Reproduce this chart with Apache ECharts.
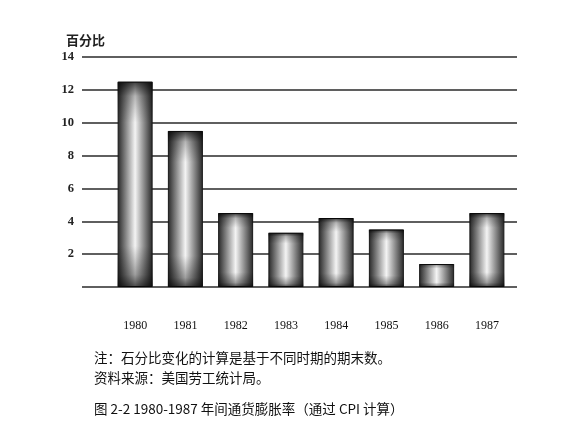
<!DOCTYPE html>
<html><head><meta charset="utf-8">
<script src="https://cdn.jsdelivr.net/npm/echarts@6/dist/echarts.min.js"></script>
<style>html,body{margin:0;padding:0;background:#fff}#c{width:587px;height:435px}</style>
</head><body><div id="c"></div>
<script>
const years = ['1980','1981','1982','1983','1984','1985','1986','1987'];
const inflation = [12.5, 9.5, 4.5, 3.3, 4.2, 3.5, 1.4, 4.5];
const yTicks = [0, 2, 4, 6, 8, 10, 12, 14];
const yName = '百分比';
const noteLines = ['注：石分比变化的计算是基于不同时期的期末数。', '资料来源：美国劳工统计局。'];
const caption = '图 2-2 1980-1987 年间通货膨胀率（通过 CPI 计算）';

const chart = echarts.init(document.getElementById('c'));
const cjk = '"Noto Sans CJK SC", sans-serif';
const barColor = {
  type: 'linear', x: 0, y: 0, x2: 1, y2: 0,
  colorStops: [
    {offset: 0, color: '#262626'},
    {offset: 0.22, color: '#808080'},
    {offset: 0.5, color: '#f4f4f4'},
    {offset: 0.78, color: '#808080'},
    {offset: 1, color: '#262626'}
  ]
};
const shadeColor = {
  type: 'linear', x: 0, y: 0, x2: 0, y2: 1,
  colorStops: [
    {offset: 0, color: 'rgba(0,0,0,0.75)'},
    {offset: 0.07, color: 'rgba(0,0,0,0.25)'},
    {offset: 0.2, color: 'rgba(0,0,0,0)'},
    {offset: 0.8, color: 'rgba(0,0,0,0)'},
    {offset: 0.94, color: 'rgba(0,0,0,0.35)'},
    {offset: 1, color: 'rgba(0,0,0,0.7)'}
  ]
};
chart.setOption({
  backgroundColor: '#fff',
  animation: false,
  title: [
    {text: yName, left: 61, top: 29, textStyle: {fontFamily: cjk, fontSize: 13, fontWeight: 'bold', color: '#222'}},
    {text: noteLines[0], left: 89, top: 346, textStyle: {fontFamily: cjk, fontSize: 13.5, fontWeight: 'normal', color: '#111'}},
    {text: noteLines[1], left: 89, top: 366, textStyle: {fontFamily: cjk, fontSize: 13.5, fontWeight: 'normal', color: '#111'}},
    {text: caption, left: 89, top: 397, textStyle: {fontFamily: cjk, fontSize: 13.5, fontWeight: 'normal', color: '#111'}}
  ],
  grid: [
    {left: 82, right: 70, top: 57, bottom: 148},
    {left: 110, width: 402, top: 57, bottom: 148}
  ],
  xAxis: [
    {gridIndex: 0, type: 'category', data: years, show: false},
    {gridIndex: 1, type: 'category', data: years, boundaryGap: true,
     axisLine: {show: false}, axisTick: {show: false},
     axisLabel: {margin: 33, fontFamily: '"Liberation Serif", serif', fontSize: 12, color: '#111'}}
  ],
  yAxis: [
    {gridIndex: 0, type: 'value', min: yTicks[0], max: yTicks[yTicks.length-1], interval: 2,
     axisLine: {show: false}, axisTick: {show: false},
     axisLabel: {margin: 8, fontFamily: '"Liberation Serif", serif', fontSize: 12.5, fontWeight: 'bold', color: '#222',
       formatter: v => v === 0 ? '' : String(v)},
     splitLine: {show: true, lineStyle: {color: '#2a2a2a', width: 1.5}}},
    {gridIndex: 1, type: 'value', min: yTicks[0], max: yTicks[yTicks.length-1], interval: 2, show: false}
  ],
  series: [
    {type: 'bar', xAxisIndex: 1, yAxisIndex: 1, data: inflation, barWidth: 35, z: 2,
     itemStyle: {color: barColor, borderColor: '#1a1a1a', borderWidth: 1}},
    {type: 'bar', xAxisIndex: 1, yAxisIndex: 1, data: inflation, barWidth: 35, barGap: '-100%', z: 3,
     silent: true, itemStyle: {color: shadeColor}}
  ]
});
</script></body></html>
